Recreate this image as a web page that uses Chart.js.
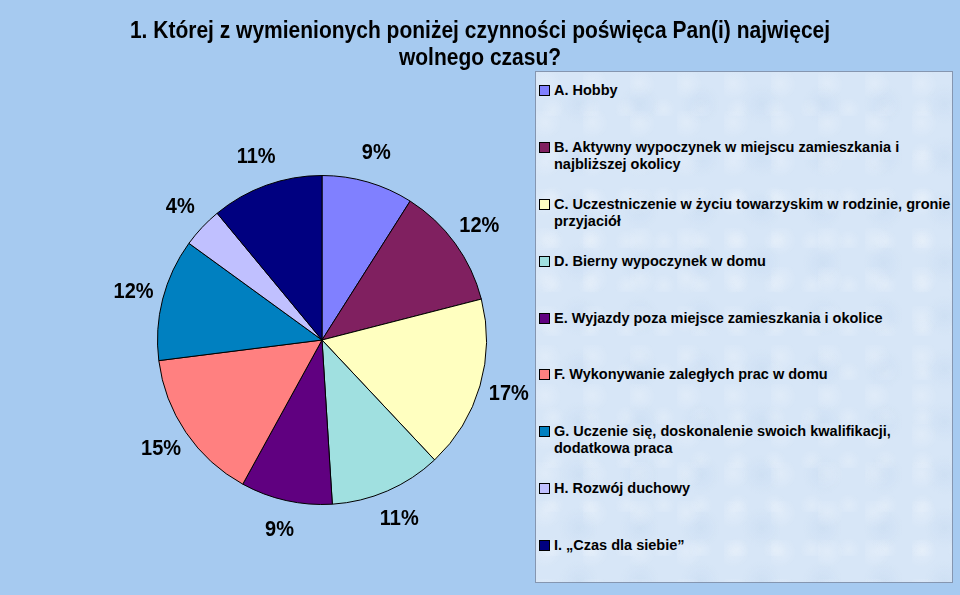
<!DOCTYPE html>
<html lang="pl">
<head>
<meta charset="utf-8">
<script src="https://cdn.jsdelivr.net/npm/chart.js@4.4.1/dist/chart.umd.min.js"></script>
<style>
    html, body { margin: 0; padding: 0; }
    body {
        width: 960px; height: 595px; overflow: hidden; position: relative;
        background: #a6caf0;
        font-family: "Liberation Sans", Arial, sans-serif;
    }
    #chart { position: absolute; left: 0; top: 0; }
    #title {
        position: absolute; left: 0; top: 0; width: 960px;
        padding-top: 17.5px;
        text-align: center;
        font-weight: bold; font-size: 21px; line-height: 25.5px;
        color: #000;
        transform: scaleY(1.1);
        transform-origin: 50% 43px;
    }
    #legend {
        position: absolute; left: 535px; top: 71px;
        width: 416px; height: 510px;
        border: 1px solid #8596b0;
        background-color: #d7e6f7;
        background-image:
            radial-gradient(circle at 20% 30%, rgba(255,255,255,0.22) 0, rgba(255,255,255,0) 16px),
            radial-gradient(circle at 70% 60%, rgba(170,198,230,0.18) 0, rgba(170,198,230,0) 20px),
            radial-gradient(circle at 45% 85%, rgba(255,255,255,0.2) 0, rgba(255,255,255,0) 12px);
        background-size: 47px 39px, 61px 53px, 37px 44px;
    }
    .item {
        position: absolute; left: 3px;
        font-weight: bold; font-size: 14.5px; line-height: 17px;
        white-space: nowrap; color: #000;
    }
    .box {
        position: absolute; left: 0; top: 3px;
        width: 9px; height: 9px; border: 1px solid #000;
    }
    .txt { margin-left: 15px; }
</style>
</head>
<body>
<canvas id="chart" width="960" height="595"></canvas>
<div id="title"></div>
<div id="legend"></div>
<script>
// tytuł wykresu
const titleLines = [
    '1. Której z wymienionych poniżej czynności poświęca Pan(i) najwięcej',
    'wolnego czasu?'
];

// kategorie (wiersze legendy)
const categories = [
    ['A. Hobby'],
    ['B. Aktywny wypoczynek w miejscu zamieszkania i', 'najbliższej okolicy'],
    ['C. Uczestniczenie w życiu towarzyskim w rodzinie, gronie', 'przyjaciół'],
    ['D. Bierny wypoczynek w domu'],
    ['E. Wyjazdy poza miejsce zamieszkania i okolice'],
    ['F. Wykonywanie zaległych prac w domu'],
    ['G. Uczenie się, doskonalenie swoich kwalifikacji,', 'dodatkowa praca'],
    ['H. Rozwój duchowy'],
    ['I. \u201eCzas dla siebie\u201d']
];

// udział procentowy
const shares = [9, 12, 17, 11, 9, 15, 12, 4, 11];

const sliceColors = [
    '#8080ff', '#802060', '#ffffc0', '#a0e0e0', '#600080',
    '#ff8080', '#0080c0', '#c0c0ff', '#000080'
];

/* etykiety procentowe na zewnątrz wycinków */
const outsideLabels = {
    id: 'outsideLabels',
    afterDatasetsDraw(chart) {
        const ctx = chart.ctx;
        const meta = chart.getDatasetMeta(0);
        const values = chart.data.datasets[0].data;
        ctx.save();
        ctx.font = 'bold 20px "Liberation Sans", Arial, sans-serif';
        ctx.fillStyle = '#000';
        ctx.textAlign = 'center';
        ctx.textBaseline = 'middle';
        meta.data.forEach((arc, i) => {
            const p = arc.getProps(['x', 'y', 'startAngle', 'endAngle', 'outerRadius'], true);
            const mid = (p.startAngle + p.endAngle) / 2;
            const r = p.outerRadius + 30;
            ctx.save();
            ctx.translate(p.x + Math.cos(mid) * r, p.y + Math.sin(mid) * r);
            ctx.scale(1, 1.1);
            ctx.fillText(values[i] + '%', 0, 0);
            ctx.restore();
        });
        ctx.restore();
    }
};

const chart = new Chart(document.getElementById('chart'), {
    type: 'pie',
    data: {
        labels: categories,
        datasets: [{
            data: shares,
            backgroundColor: sliceColors,
            borderColor: '#000',
            borderWidth: 1
        }]
    },
    options: {
        responsive: false,
        animation: false,
        layout: { padding: { left: 157, right: 473, top: 175, bottom: 90 } },
        plugins: {
            legend: { display: false },
            title: { display: false },
            tooltip: { enabled: false }
        }
    },
    plugins: [outsideLabels]
});

document.getElementById('title').innerHTML = titleLines.join('<br>');

// legenda HTML z kolorów wykresu
const legendEl = document.getElementById('legend');
const step = 56.875;
categories.forEach((lines, i) => {
    const item = document.createElement('div');
    item.className = 'item';
    item.style.top = (10 + i * step) + 'px';
    const sw = document.createElement('span');
    sw.className = 'box';
    sw.style.background = sliceColors[i];
    const t = document.createElement('div');
    t.className = 'txt';
    t.innerHTML = lines.join('<br>');
    item.appendChild(sw);
    item.appendChild(t);
    legendEl.appendChild(item);
});
</script>
</body>
</html>
